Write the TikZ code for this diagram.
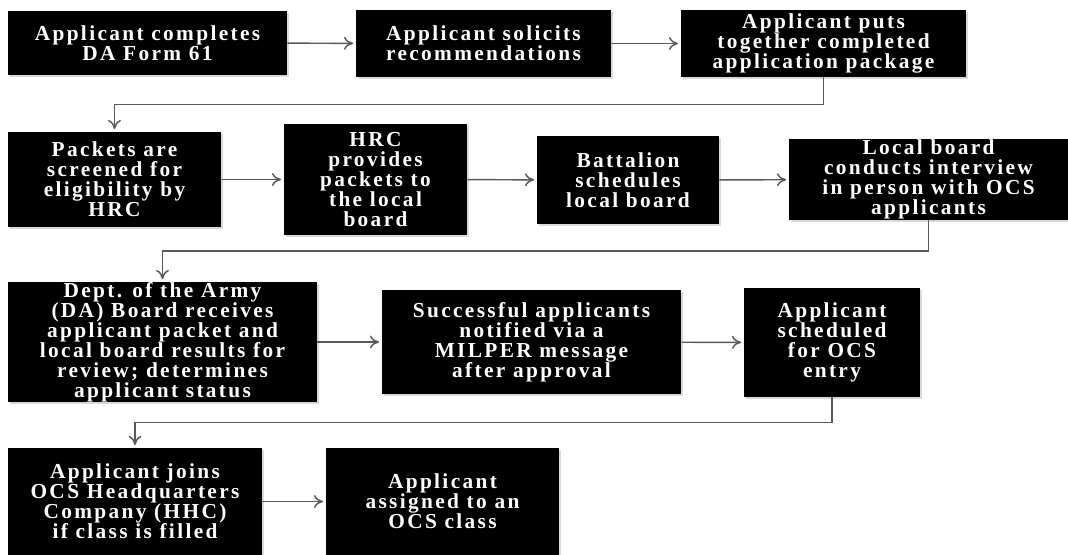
\documentclass[tikz,border=0pt]{standalone}
\usepackage{fontspec}
\setmainfont{Liberation Serif}[LetterSpace=11]
\usepackage{tikz}
\usetikzlibrary{arrows.meta, calc, shadows}

\begin{document}
\begin{tikzpicture}[
    x=0.75pt, y=-0.75pt,
    stage/.style={fill=black, text=white, inner sep=0pt, align=center,
        font=\fontsize{16}{15}\selectfont\bfseries,
        drop shadow={shadow xshift=1.2pt, shadow yshift=-1.2pt, opacity=0.3}},
    arr/.style={-{To[length=2.4mm, width=3.4mm]}, draw=black!65, line width=1.1pt, shorten >=2pt},
]
\useasboundingbox (0,0) rectangle (1068,555);

% Row 1
\node[stage, minimum width=209.25pt, minimum height=48pt] (a1) at (147.5,43) {Applicant completes\\DA Form 61};
\node[stage, minimum width=191.25pt, minimum height=50.25pt] (a2) at (483.5,43.5) {Applicant solicits\\recommendations};
\node[stage, minimum width=213.75pt, minimum height=50.25pt] (a3) at (823.5,43.5) {Applicant puts\\together completed\\application package};

% Row 2
\node[stage, minimum width=159.75pt, minimum height=71.25pt] (b1) at (114.5,179.5) {Packets are\\screened for\\eligibility by\\HRC};
\node[stage, minimum width=137.25pt, minimum height=83.25pt] (b2) at (375.5,179.5) {HRC\\provides\\packets to\\the local\\board};
\node[stage, minimum width=136.5pt, minimum height=66pt] (b3) at (628,180) {Battalion\\schedules\\local board};
\node[stage, minimum width=209.25pt, minimum height=60.75pt] (b4) at (928.5,179.5) {Local board\\conducts interview\\in person with OCS\\applicants};

% Row 3
\node[stage, minimum width=231.75pt, minimum height=90pt] (c1) at (162.5,342) {Dept. of the Army\\(DA) Board receives\\applicant packet and\\local board results for\\review; determines\\applicant status};
\node[stage, minimum width=224.25pt, minimum height=78pt] (c2) at (531.5,342) {Successful applicants\\notified via a\\MILPER message\\after approval};
\node[stage, minimum width=132pt, minimum height=81.75pt] (c3) at (832,342.5) {Applicant\\scheduled\\for OCS\\entry};

% Row 4
\node[stage, minimum width=190.5pt, minimum height=80.25pt] (d1) at (135,501.5) {Applicant joins\\OCS Headquarters\\Company (HHC)\\if class is filled};
\node[stage, minimum width=174.75pt, minimum height=80.25pt] (d2) at (442.5,501.5) {Applicant\\assigned to an\\OCS class};

% Arrows
\draw[arr] (a1) -- (a2);
\draw[arr] (a2) -- (a3);
\draw[arr] (a3.south) |- ($(a3.south)!.5!(b1.north)$) -| (b1.north);
\draw[arr] (b1) -- (b2);
\draw[arr] (b2) -- (b3);
\draw[arr] (b3) -- (b4);
\draw[arr] (b4.south) |- ($(b4.south)!.5!(c1.north)$) -| (c1.north);
\draw[arr] (c1) -- (c2);
\draw[arr] (c2) -- (c3);
\draw[arr] (c3.south) |- ($(c3.south)!.5!(d1.north)$) -| (d1.north);
\draw[arr] (d1) -- (d2);
\end{tikzpicture}
\end{document}
